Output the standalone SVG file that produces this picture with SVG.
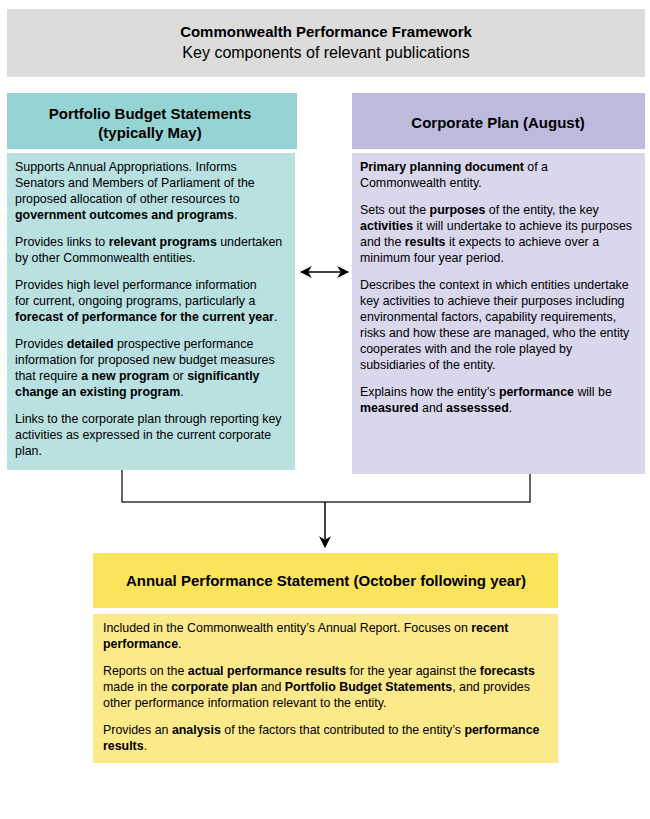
<svg xmlns="http://www.w3.org/2000/svg" width="650" height="819" viewBox="0 0 650 819">
<style>
text{font-family:"Liberation Sans",Arial,sans-serif;fill:#000}
.h{font-size:15px;font-weight:bold;text-anchor:middle}
.t{font-size:12.4px}
.b{font-weight:bold}
.c{fill:none;stroke:#333;stroke-width:1.5}
</style>
<defs><marker id="a" viewBox="0 0 10 10" refX="9" refY="5" markerWidth="8" markerHeight="8" orient="auto-start-reverse"><path d="M0,0 L10,5 L0,10 L3,5 Z" fill="#000"/></marker></defs>
<rect width="650" height="819" fill="#fff"/>
<g id="title">
<rect x="7" y="9" width="638" height="68" fill="#dcdcdb"/>
<text class="h" x="326" y="37" font-size="16">Commonwealth Performance Framework</text>
<text x="326" y="58" font-size="16" text-anchor="middle">Key components of relevant publications</text>
</g>
<g id="pbs">
<rect x="7" y="93" width="290" height="56" fill="#96d3d3"/>
<text class="h" x="150" y="119">Portfolio Budget Statements</text>
<text class="h" x="150" y="138">(typically May)</text>
<rect x="7" y="153" width="288" height="317" fill="#b9e1e1"/>
<text class="t" x="15">
<tspan x="15" y="171">Supports Annual Appropriations. Informs</tspan>
<tspan x="15" y="187">Senators and Members of Parliament of the</tspan>
<tspan x="15" y="203">proposed allocation of other resources to</tspan>
<tspan x="15" y="219" class="b">government outcomes and programs</tspan><tspan>.</tspan>
<tspan x="15" y="246">Provides links to </tspan><tspan class="b">relevant programs</tspan><tspan> undertaken</tspan>
<tspan x="15" y="262">by other Commonwealth entities.</tspan>
<tspan x="15" y="289">Provides high level performance information</tspan>
<tspan x="15" y="305">for current, ongoing programs, particularly a</tspan>
<tspan x="15" y="321" class="b">forecast of performance for the current year</tspan><tspan>.</tspan>
<tspan x="15" y="348">Provides </tspan><tspan class="b">detailed</tspan><tspan> prospective performance</tspan>
<tspan x="15" y="364">information for proposed new budget measures</tspan>
<tspan x="15" y="380">that require </tspan><tspan class="b">a new program</tspan><tspan> or </tspan><tspan class="b">significantly</tspan>
<tspan x="15" y="396" class="b">change an existing program</tspan><tspan>.</tspan>
<tspan x="15" y="423">Links to the corporate plan through reporting key</tspan>
<tspan x="15" y="439">activities as expressed in the current corporate</tspan>
<tspan x="15" y="455">plan.</tspan>
</text>
</g>
<g id="cp">
<rect x="352" y="93" width="293" height="56" fill="#bcbbdd"/>
<text class="h" x="498" y="128">Corporate Plan (August)</text>
<rect x="352" y="153" width="293" height="321" fill="#d9d7ec"/>
<text class="t">
<tspan x="360" y="171" class="b">Primary planning document</tspan><tspan> of a</tspan>
<tspan x="360" y="187">Commonwealth entity.</tspan>
<tspan x="360" y="214">Sets out the </tspan><tspan class="b">purposes</tspan><tspan> of the entity, the key</tspan>
<tspan x="360" y="230" class="b">activities</tspan><tspan> it will undertake to achieve its purposes</tspan>
<tspan x="360" y="246">and the </tspan><tspan class="b">results</tspan><tspan> it expects to achieve over a</tspan>
<tspan x="360" y="262">minimum four year period.</tspan>
<tspan x="360" y="289">Describes the context in which entities undertake</tspan>
<tspan x="360" y="305">key activities to achieve their purposes including</tspan>
<tspan x="360" y="321">environmental factors, capability requirements,</tspan>
<tspan x="360" y="337">risks and how these are managed, who the entity</tspan>
<tspan x="360" y="353">cooperates with and the role played by</tspan>
<tspan x="360" y="369">subsidiaries of the entity.</tspan>
<tspan x="360" y="396">Explains how the entity’s </tspan><tspan class="b">performance</tspan><tspan> will be</tspan>
<tspan x="360" y="412" class="b">measured</tspan><tspan> and </tspan><tspan class="b">assesssed</tspan><tspan>.</tspan>
</text>
</g>
<g id="aps">
<rect x="93" y="553" width="465" height="55" fill="#fbe35a"/>
<text class="h" x="326" y="586">Annual Performance Statement (October following year)</text>
<rect x="93" y="614" width="465" height="149" fill="#fce98a"/>
<text class="t">
<tspan x="103" y="632">Included in the Commonwealth entity’s Annual Report. Focuses on </tspan><tspan class="b">recent</tspan>
<tspan x="103" y="648" class="b">performance</tspan><tspan>.</tspan>
<tspan x="103" y="675">Reports on the </tspan><tspan class="b">actual performance results</tspan><tspan> for the year against the </tspan><tspan class="b">forecasts</tspan>
<tspan x="103" y="691">made in the </tspan><tspan class="b">corporate plan</tspan><tspan> and </tspan><tspan class="b">Portfolio Budget Statements</tspan><tspan>, and provides</tspan>
<tspan x="103" y="707">other performance information relevant to the entity.</tspan>
<tspan x="103" y="734">Provides an </tspan><tspan class="b">analysis</tspan><tspan> of the factors that contributed to the entity’s </tspan><tspan class="b">performance</tspan>
<tspan x="103" y="750" class="b">results</tspan><tspan>.</tspan>
</text>
</g>
<g id="connectors">
<path class="c" d="M122,470 V502 H530 V474"/>
<path d="M325,502 V547" stroke="#000" stroke-width="1.5" fill="none" marker-end="url(#a)"/>
<path d="M301,272 H348" stroke="#000" stroke-width="1.5" fill="none" marker-start="url(#a)" marker-end="url(#a)"/>
</g>
</svg>
